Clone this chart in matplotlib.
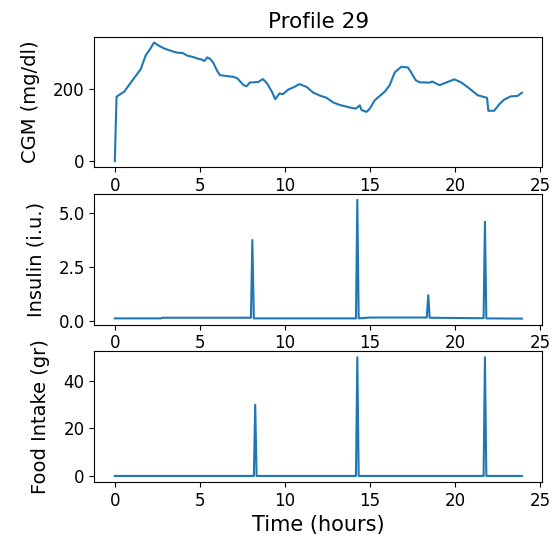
import matplotlib
matplotlib.use('Agg')
import matplotlib.pyplot as plt

# CGM trace (hours, mg/dl)
cgm_t = [0.0, 0.1, 0.55, 1.0, 1.52, 1.82, 2.1, 2.3, 2.6, 2.89, 3.3, 3.67, 4.0, 4.25,
         4.6, 4.84, 5.1, 5.27, 5.43, 5.6, 5.78, 6.0, 6.17, 6.6, 6.98, 7.2, 7.57,
         7.76, 7.92, 8.45, 8.7, 8.95, 9.23, 9.43, 9.68, 9.88, 10.2, 10.55, 10.85,
         11.28, 11.67, 12.06, 12.45, 12.84, 13.23, 13.82, 14.17, 14.4, 14.5, 14.8,
         14.99, 15.28, 15.87, 16.16, 16.45, 16.84, 17.23, 17.4, 17.68, 17.91, 18.5,
         18.66, 19.09, 19.57, 19.96, 20.35, 20.84, 21.33, 21.88, 21.96, 22.3, 22.6,
         22.89, 23.28, 23.67, 23.93]
cgm = [0, 179, 193, 222, 255, 294, 313, 329, 320, 313, 306, 301, 300, 293,
       289, 285, 282, 278, 288, 284, 274, 252, 239, 236, 234, 230, 211,
       208, 218, 220, 228, 216, 193, 172, 188, 186, 199, 206, 214,
       206, 190, 182, 176, 163, 156, 149, 146, 155, 142, 137,
       146, 169, 193, 211, 246, 262, 260, 248, 225, 219, 218,
       221, 211, 220, 227, 219, 202, 183, 176, 140, 140, 158,
       171, 180, 181, 190]

# Insulin (hours, i.u.)
ins_t = [0.0, 2.7, 2.8, 8.0, 8.08, 8.17, 14.17, 14.25, 14.33, 15.0, 18.33, 18.42,
         18.5, 21.0, 21.67, 21.75, 21.83, 23.92]
insulin = [0.12, 0.12, 0.15, 0.15, 3.74, 0.12, 0.12, 5.59, 0.12, 0.16, 0.16, 1.19,
           0.15, 0.13, 0.13, 4.58, 0.12, 0.11]

# Food intake (hours, gr)
food_t = [0.0, 8.17, 8.25, 8.33, 14.17, 14.25, 14.33, 21.67, 21.75, 21.83, 23.92]
food = [0, 0, 30, 0, 0, 50, 0, 0, 50, 0, 0]


def main():
    plt.rcParams['font.size'] = 12
    fig, axes = plt.subplots(3, 1, figsize=(5.59, 5.39), dpi=100)
    fig.subplots_adjust(left=0.169, right=0.970, top=0.932, bottom=0.106, hspace=0.205)

    axes[0].plot(cgm_t, cgm)
    axes[0].set_ylabel('CGM (mg/dl)', fontsize=14, labelpad=9.5)
    axes[0].set_title('Profile 29', fontsize=15.5)

    axes[1].plot(ins_t, insulin)
    axes[1].set_ylabel('Insulin (i.u.)', fontsize=14, labelpad=9.5)

    axes[2].plot(food_t, food)
    axes[2].set_ylabel('Food Intake (gr)', fontsize=14, labelpad=9.5)
    axes[2].set_xlabel('Time (hours)', fontsize=15)

    fig.savefig('out.png')


if __name__ == "__main__":
    main()
